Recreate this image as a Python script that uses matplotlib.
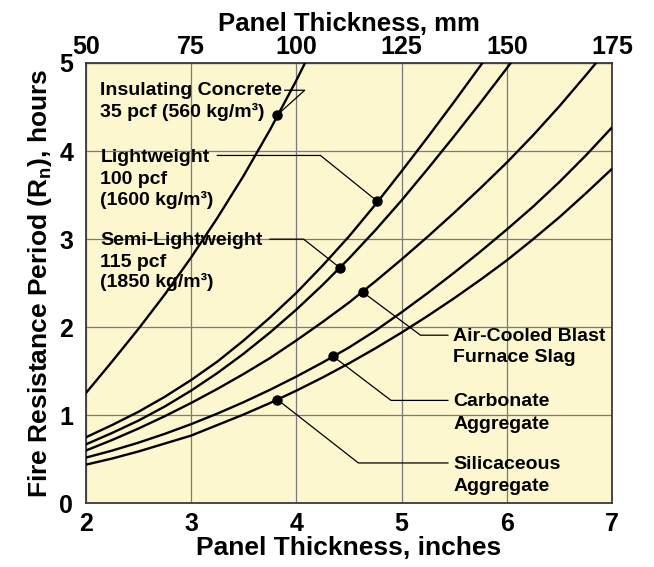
import matplotlib
matplotlib.use('agg')
import matplotlib.pyplot as plt

plt.rcParams['font.family'] = ['Liberation Sans', 'DejaVu Sans']
plt.rcParams['font.weight'] = 'bold'
plt.rcParams['mathtext.fontset'] = 'custom'
plt.rcParams['mathtext.rm'] = 'Liberation Sans:bold'
plt.rcParams['mathtext.bf'] = 'Liberation Sans:bold'

# panel thickness, inches
thickness = [2.0, 2.25, 2.5, 2.75, 3.0, 3.25, 3.5, 3.75, 4.0, 4.25, 4.5,
             4.75, 5.0, 5.25, 5.5, 5.75, 6.0, 6.25, 6.5, 6.75, 7.0]
inch_ticks = [2, 3, 4, 5, 6, 7]
mm_labels = ['50', '75', '100', '125', '150', '175']
hour_ticks = [0, 1, 2, 3, 4, 5]

# fire resistance, hours
insul_hr = [1.25, 1.61, 1.98, 2.37, 2.79, 3.24, 3.72, 4.24, 4.80, 5.40]
light_hr = [0.75, 0.89, 1.04, 1.21, 1.40, 1.61, 1.85, 2.11, 2.39, 2.70, 3.03,
            3.39, 3.77, 4.16, 4.56, 4.97, 5.39]
semi_hr = [0.67, 0.80, 0.94, 1.10, 1.28, 1.48, 1.70, 1.94, 2.20, 2.48, 2.78,
           3.10, 3.44, 3.80, 4.17, 4.55, 4.94, 5.34]
slag_hr = [0.60, 0.72, 0.85, 0.99, 1.14, 1.30, 1.47, 1.65, 1.85, 2.06, 2.28,
           2.52, 2.77, 3.03, 3.30, 3.58, 3.87, 4.18, 4.51, 4.86, 5.22]
carb_hr = [0.52, 0.60, 0.69, 0.79, 0.90, 1.02, 1.15, 1.29, 1.44, 1.60, 1.77,
           1.96, 2.17, 2.39, 2.62, 2.86, 3.11, 3.37, 3.65, 3.95, 4.27]
sili_hr = [0.44, 0.51, 0.59, 0.68, 0.77, 0.89, 1.01, 1.14, 1.28, 1.43, 1.59,
           1.76, 1.94, 2.13, 2.33, 2.54, 2.76, 3.00, 3.25, 3.52, 3.80]

# labelled points on the curves
dot_in = [3.82, 4.77, 4.42, 4.63, 4.35, 3.82]
dot_hr = [4.41, 3.43, 2.67, 2.40, 1.67, 1.18]

fig = plt.figure(figsize=(6.54, 5.67), dpi=100)
ax = fig.add_axes([0.131, 0.112, 0.805, 0.777])
ax.set_facecolor('#fcf7cf')

curve_kw = dict(color='black', lw=1.7, solid_capstyle='round', solid_joinstyle='round', zorder=3)
ax.plot(thickness[:len(insul_hr)], insul_hr, **curve_kw)
ax.plot(thickness[:len(light_hr)], light_hr, **curve_kw)
ax.plot(thickness[:len(semi_hr)], semi_hr, **curve_kw)
ax.plot(thickness, slag_hr, **curve_kw)
ax.plot(thickness, carb_hr, **curve_kw)
ax.plot(thickness, sili_hr, **curve_kw)
ax.plot(dot_in, dot_hr, 'o', color='black', ms=6.5, zorder=4)

ax.set_xlim(2, 7)
ax.set_ylim(0, 5)
ax.set_xticks(inch_ticks)
ax.set_yticks(hour_ticks)
ax.grid(True, color='#7a7a7a', lw=0.9)
ax.tick_params(length=0, labelsize=18, pad=6)
ax.tick_params(axis='y', pad=9)
for s in ax.spines.values():
    s.set_color('#3a3a3a')
    s.set_linewidth(1.3)

top = ax.secondary_xaxis('top')
top.set_xticks(inch_ticks, labels=mm_labels)
top.tick_params(length=0, labelsize=18, pad=3)
top.set_xlabel('Panel Thickness, mm', fontsize=18.5, fontweight='bold', labelpad=3)

ax.set_xlabel('Panel Thickness, inches', fontsize=19, fontweight='bold', labelpad=0)
ax.set_ylabel(r'Fire Resistance Period (R$_\mathbf{n}$), hours', fontsize=19,
              fontweight='bold', labelpad=4)

# labels with leader lines
txt_kw = dict(fontsize=14, fontweight='bold', ha='left', va='center', zorder=5)
lead_kw = dict(color='black', lw=0.9, zorder=2)

ax.text(2.14, 4.69, 'Insulating Concrete', **txt_kw)
ax.text(2.14, 4.44, '35 pcf (560 kg/m³)', **txt_kw)
ax.plot([3.89, 4.08, 3.82], [4.69, 4.69, 4.41], **lead_kw)

for y, s in zip([3.93, 3.68, 3.44], ['Lightweight', '100 pcf', '(1600 kg/m³)']):
    ax.text(2.14, y, s, **txt_kw)
ax.plot([3.25, 4.23, 4.77], [3.95, 3.95, 3.43], **lead_kw)

for y, s in zip([2.99, 2.74, 2.51], ['Semi-Lightweight', '115 pcf', '(1850 kg/m³)']):
    ax.text(2.14, y, s, **txt_kw)
ax.plot([3.75, 4.07, 4.42], [3.0, 3.0, 2.67], **lead_kw)

for y, s in zip([1.90, 1.66], ['Air-Cooled Blast', 'Furnace Slag']):
    ax.text(5.49, y, s, **txt_kw)
ax.plot([5.44, 5.18, 4.63], [1.91, 1.91, 2.40], **lead_kw)

for y, s in zip([1.16, 0.90], ['Carbonate', 'Aggregate']):
    ax.text(5.49, y, s, **txt_kw)
ax.plot([5.44, 4.90, 4.35], [1.17, 1.17, 1.67], **lead_kw)

for y, s in zip([0.44, 0.19], ['Silicaceous', 'Aggregate']):
    ax.text(5.49, y, s, **txt_kw)
ax.plot([5.44, 4.59, 3.82], [0.46, 0.46, 1.18], **lead_kw)

fig.savefig('out.png', dpi=100)
